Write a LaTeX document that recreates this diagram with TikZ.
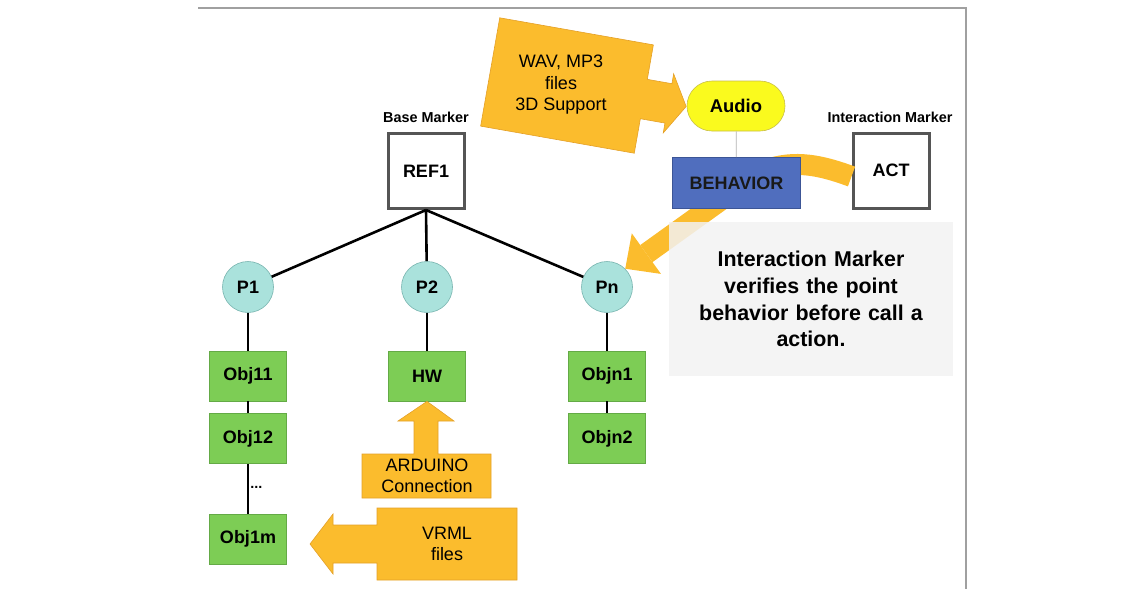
\documentclass[tikz,border=0pt]{standalone}
\usepackage{fontspec}
\setmainfont{Liberation Sans}
\usetikzlibrary{positioning,arrows.meta,calc}

\definecolor{calloutfill}{RGB}{251,188,45}
\definecolor{calloutline}{RGB}{228,160,40}
\definecolor{objfill}{RGB}{125,205,85}
\definecolor{objline}{RGB}{100,170,70}
\definecolor{pointfill}{RGB}{170,226,220}
\definecolor{pointline}{RGB}{120,180,175}
\definecolor{audiofill}{RGB}{250,250,30}
\definecolor{audioline}{RGB}{200,190,70}
\definecolor{behavfill}{RGB}{80,110,190}
\definecolor{behavline}{RGB}{60,85,150}
\definecolor{markerline}{RGB}{85,85,85}
\definecolor{notefill}{RGB}{242,242,242}
\definecolor{framegray}{RGB}{160,160,160}

\begin{document}
\begin{tikzpicture}[x=1pt,y=-1pt]
\tikzset{
  basic/.style   = {draw, align=center, inner sep=2pt,
                    font=\bfseries\fontsize{18}{20}\selectfont},
  marker/.style  = {basic, rectangle, draw=markerline, line width=3pt,
                    fill=white, minimum width=76pt, minimum height=75pt},
  point/.style   = {basic, circle, draw=pointline, fill=pointfill,
                    line width=0.6pt, minimum size=51pt},
  object/.style  = {basic, rectangle, draw=objline, fill=objfill,
                    line width=0.6pt, minimum width=77pt, minimum height=50pt},
  tag/.style     = {inner sep=1pt, font=\bfseries\fontsize{14.4}{16}\selectfont},
  link/.style    = {draw, line width=2.6pt},
  callout/.style = {fill=calloutfill, draw=calloutline, line width=0.6pt},
  calltext/.style = {align=center, font=\fontsize{18}{21.5}\selectfont},
  band/.style    = {draw=calloutfill, line width=21pt, line join=round,
                    -{Triangle[width=50pt,length=26pt,line width=0pt]}}
}
\useasboundingbox (0,0) rectangle (1145,589);
\draw[framegray, line width=1.2pt] (198,8) -- (966,8) -- (966,589);

% base marker and its points
\node[tag] (reftag) at (426,117) {Base Marker};
\node[marker] (ref) at (426,171) {REF1};
\node[point] (p1) at (248,287) {P1};
\node[point] (p2) at (427,287) {P2};
\node[point] (pn) at (607,287) {Pn};
\draw[link] (ref.south) -- (p1);
\draw[link] (ref.south) -- (p2);
\draw[link] (ref.south) -- (pn);

% objects hanging from each point
\node[object, below=38pt of p1] (obj11) {Obj11};
\node[object, below=12pt of obj11] (obj12) {Obj12};
\node[object, below=50pt of obj12] (obj1m) {Obj1m};
\node[object, below=38pt of p2] (hw) {HW};
\node[object, below=38pt of pn] (objn1) {Objn1};
\node[object, below=12pt of objn1] (objn2) {Objn2};
\draw[link] (p1) -- (obj11);
\draw[link] (obj11) -- (obj12);
\draw[link] (obj12) -- node[tag, right, yshift=2pt] (dots) {...} (obj1m);
\draw[link] (p2) -- (hw);
\draw[link] (pn) -- (objn1);
\draw[link] (objn1) -- (objn2);

% block arrows
\draw[callout] (362,498) -- (362,454) -- (414,454) -- (414,421) -- (398,421)
  -- (hw.south) -- (454,421) -- (438,421) -- (438,454) -- (491,454)
  -- (491,498) -- cycle;
\node[calltext] (ard) at (427,476) {ARDUINO\\Connection};
\draw[callout] (517,508) -- (377,508) -- (377,525) -- (333,525) -- (333,514)
  -- (310,544) -- (333,574) -- (333,563) -- (377,563) -- (377,580)
  -- (517,580) -- cycle;
\node[calltext] (vrml) at (447,544) {VRML\\files};
\begin{scope}[shift={(567,85.5)}, rotate=-10]
  \draw[callout] (-78,-55) -- (78,-55) -- (78,-20) -- (103,-20) -- (103,-30)
    -- (121,0) -- (103,30) -- (103,20) -- (78,20) -- (78,55) -- (-78,55) -- cycle;
\end{scope}
\node[calltext] (wav) at (561,85) {WAV, MP3\\files\\3D Support};

% interaction marker
\node[tag] (acttag) at (890,117) {Interaction Marker};
\node[marker] (act) at (891,170.5) {ACT};
\draw[band] ($(act.west)+(0,6)$) .. controls (815,163) and (790,160) .. (760,172)
  -- (pn.north east);
\node[basic, draw=behavline, fill=behavfill, line width=0.6pt, text=black!90,
      minimum width=128pt, minimum height=51pt,
      font=\bfseries\fontsize{18}{20}\selectfont] (behav) at (736.5,183) {BEHAVIOR};
\node[basic, draw=audioline, fill=audiofill, line width=0.6pt,
      rounded corners=25pt, minimum width=98pt, minimum height=50pt,
      font=\bfseries\fontsize{18.4}{20}\selectfont] (audio) at (736,106) {Audio};
\draw[gray!60, line width=0.8pt] (audio) -- (behav);

\node[fill=notefill, fill opacity=0.85, text opacity=1, align=center,
      minimum width=284pt, minimum height=154pt, text width=275pt,
      font=\bfseries\fontsize{21.4}{26.7}\selectfont] (note) at (811,299)
  {Interaction Marker\\verifies the point\\behavior before call a\\action.};
\end{tikzpicture}
\end{document}
